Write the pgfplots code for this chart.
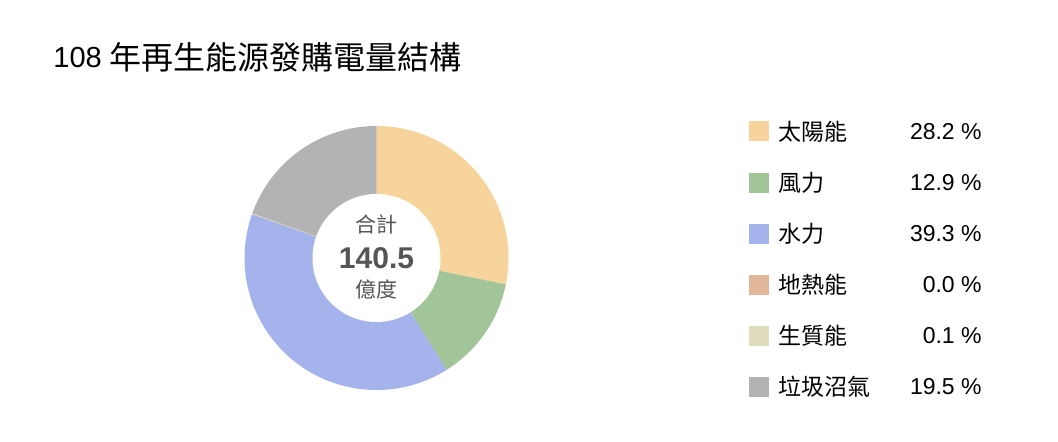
\documentclass[border=0pt]{standalone}
\usepackage{pgfplots}
\usepackage{pgfplotstable}
\pgfplotsset{compat=1.18}
\usepackage{fontspec}
\setmainfont{Liberation Sans}
\newfontfamily\cjk{Noto Sans CJK TC}

\definecolor{csolar}{HTML}{F8D49D}
\definecolor{cwind}{HTML}{A2C499}
\definecolor{chydro}{HTML}{A5B3EC}
\definecolor{cgeo}{HTML}{E2B698}
\definecolor{cbio}{HTML}{DEDCBB}
\definecolor{cwaste}{HTML}{B3B3B3}
\definecolor{ctext}{HTML}{555555}

% share of each source, percent
\pgfplotstableread{
name pct col
太陽能 28.2 csolar
風力 12.9 cwind
水力 39.3 chydro
地熱能 0.0 cgeo
生質能 0.1 cbio
垃圾沼氣 19.5 cwaste
}\sharetable

\tikzset{
  legtext/.style={inner sep=0pt, font=\fontsize{11.5}{11.5}\selectfont},
}

\begin{document}
\begin{tikzpicture}
\begin{axis}[
    scale only axis,
    width=529pt, height=221pt,
    xmin=0, xmax=1058, ymin=0, ymax=442,
    y dir=reverse,
    hide axis, clip=false,
  ]
  % keep the whole canvas as the page
  \path (axis cs:0,0) rectangle (axis cs:1058,442);
  \pgfplotstablegetrowsof{\sharetable}
  \pgfmathtruncatemacro\lastrow{\pgfplotsretval-1}
  \def\cum{0}
  \pgfplotsforeachungrouped \i in {0,...,\lastrow}{%
    \pgfplotstablegetelem{\i}{pct}\of\sharetable \let\pct\pgfplotsretval
    \pgfplotstablegetelem{\i}{col}\of\sharetable \let\col\pgfplotsretval
    \pgfplotstablegetelem{\i}{name}\of\sharetable \let\lbl\pgfplotsretval
    \pgfmathsetmacro\angA{90-3.6*\cum}
    \pgfmathsetmacro\angB{90-3.6*(\cum+\pct)}
    \pgfmathsetmacro\ly{131.5+51.1*\i}
    \pgfmathsetmacro\lyA{\ly-10}
    \pgfmathsetmacro\lyB{\ly+10}
    \edef\doit{%
      \noexpand\fill[\col] (axis cs:376.5,258) -- ++(\angA:66pt)
        arc[start angle=\angA, end angle=\angB, radius=66pt] -- cycle;
      \noexpand\fill[\col] (axis cs:749,\lyA) rectangle (axis cs:769,\lyB);
      \noexpand\node[legtext, anchor=west] at (axis cs:778,\ly) {\noexpand\cjk \lbl};
      \noexpand\node[legtext, anchor=east] at (axis cs:982,\ly) {\pct\space\noexpand\%};
    }\doit
    \pgfmathsetmacro\cum{\cum+\pct}
  }
  \fill[white] (axis cs:376.5,258) circle[radius=32pt];
  \node[text=ctext, inner sep=0pt, font=\fontsize{10.5}{10.5}\selectfont]
    at (axis cs:376.5,224.5) {\cjk 合計};
  \node[text=ctext, inner sep=0pt, anchor=base, font=\fontsize{15}{15}\selectfont\bfseries]
    at (axis cs:376.5,268.3) {140.5};
  \node[text=ctext, inner sep=0pt, font=\fontsize{10.5}{10.5}\selectfont]
    at (axis cs:376.5,289) {\cjk 億度};
  \node[anchor=base west, inner sep=0pt, font=\fontsize{14.5}{14.5}\selectfont]
    at (axis cs:53,67.5) {108 \raisebox{-1pt}{\fontsize{16}{16}\selectfont\cjk 年再生能源發購電量結構}};
\end{axis}
\end{tikzpicture}
\end{document}
